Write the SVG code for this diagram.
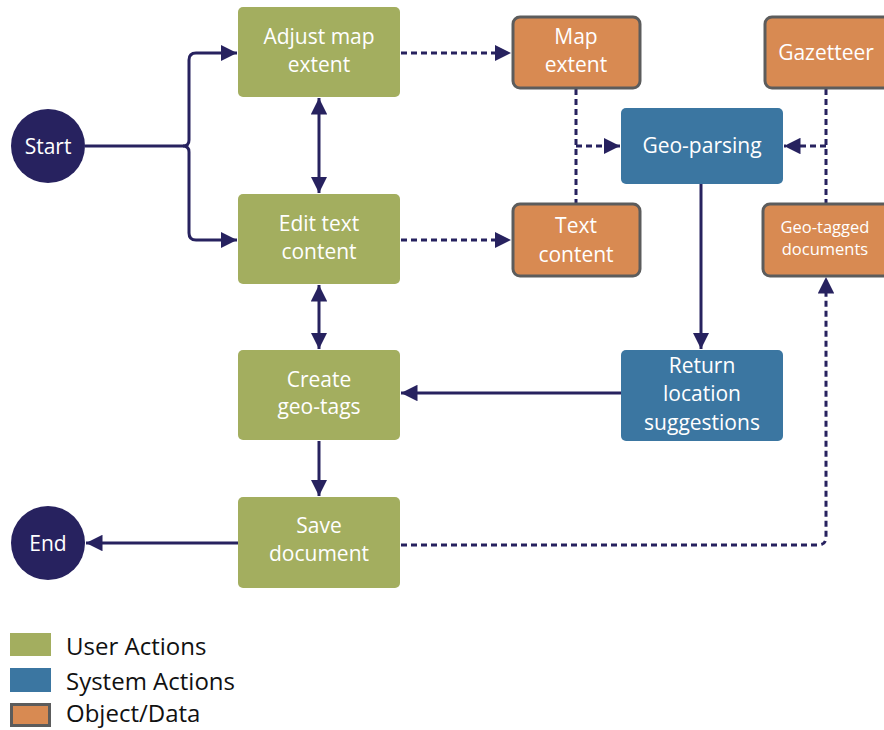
<svg xmlns="http://www.w3.org/2000/svg" width="884" height="730" viewBox="0 0 884 730">
<style>
.user{fill:#a3ae5f}
.sys{fill:#3b76a1}
.obj{fill:#d88a52;stroke:#5c5c5c;stroke-width:3}
.t{font-family:"Open Sans","Liberation Sans",sans-serif;font-size:21px;fill:#fff;text-anchor:middle}
.ts{font-family:"Open Sans","Liberation Sans",sans-serif;font-size:16.5px;fill:#fff;text-anchor:middle}
.lg{font-family:"Open Sans","Liberation Sans",sans-serif;font-size:24px;fill:#111}
.c{fill:none;stroke:#27225f;stroke-width:3}
.d{fill:none;stroke:#27225f;stroke-width:3;stroke-dasharray:6 4}
.term{fill:#27225f}
</style>
<defs>
<marker id="ah" viewBox="0 0 10 10" refX="10" refY="5" markerWidth="5.5" markerHeight="5.5" orient="auto-start-reverse" markerUnits="strokeWidth">
<path d="M0,0 L10,5 L0,10 z" fill="#27225f"/>
</marker>
</defs>
<g id="connectors">
<path class="c" d="M85,146 H183 Q189,146 189,140 V60 Q189,53 196,53 H237" marker-end="url(#ah)"/>
<path class="c" d="M183,146 Q189,146 189,152 V233 Q189,240 196,240 H237" marker-end="url(#ah)"/>
<path class="c" d="M319,98 V193" marker-start="url(#ah)" marker-end="url(#ah)"/>
<path class="c" d="M319,285 V349" marker-start="url(#ah)" marker-end="url(#ah)"/>
<path class="c" d="M319,441 V496" marker-end="url(#ah)"/>
<path class="c" d="M238,543 H86" marker-end="url(#ah)"/>
<path class="c" d="M621,393 H401" marker-end="url(#ah)"/>
<path class="c" d="M701,184 V349" marker-end="url(#ah)"/>
<path class="d" d="M401,53 H511" marker-end="url(#ah)"/>
<path class="d" d="M401,240 H511" marker-end="url(#ah)"/>
<path class="d" d="M576,89 V203"/>
<path class="d" d="M576,146 H620" marker-end="url(#ah)"/>
<path class="d" d="M826,89 V203"/>
<path class="d" d="M826,146 H784" marker-end="url(#ah)"/>
<path class="d" d="M401,545 H818 Q826,545 826,537 V277" marker-end="url(#ah)"/>
</g>
<g id="start"><circle class="term" cx="48" cy="146" r="37"/><text class="t" x="48" y="154">Start</text></g>
<g id="end"><circle class="term" cx="48" cy="543" r="37"/><text class="t" x="48" y="551">End</text></g>
<g id="adjust"><rect class="user" x="238" y="7" width="162" height="90" rx="5"/><text class="t" x="319" y="44">Adjust map</text><text class="t" x="319" y="72">extent</text></g>
<g id="edit"><rect class="user" x="238" y="194" width="162" height="90" rx="5"/><text class="t" x="319" y="231">Edit text</text><text class="t" x="319" y="259">content</text></g>
<g id="create"><rect class="user" x="238" y="350" width="162" height="90" rx="5"/><text class="t" x="319" y="387">Create</text><text class="t" x="319" y="414">geo-tags</text></g>
<g id="save"><rect class="user" x="238" y="497" width="162" height="91" rx="5"/><text class="t" x="319" y="533">Save</text><text class="t" x="319" y="561">document</text></g>
<g id="mapextent"><rect class="obj" x="513" y="17" width="127" height="71" rx="7"/><text class="t" x="576" y="44">Map</text><text class="t" x="576" y="72">extent</text></g>
<g id="textcontent"><rect class="obj" x="513" y="204" width="127" height="72" rx="7"/><text class="t" x="576" y="233">Text</text><text class="t" x="576" y="262">content</text></g>
<g id="gazetteer"><rect class="obj" x="765" y="17" width="130" height="71" rx="7"/><text class="t" x="826" y="60">Gazetteer</text></g>
<g id="geotagged"><rect class="obj" x="763" y="204" width="130" height="72" rx="7"/><text class="ts" x="825" y="233">Geo-tagged</text><text class="ts" x="825" y="255">documents</text></g>
<g id="geoparsing"><rect class="sys" x="621" y="108" width="162" height="76" rx="5"/><text class="t" x="702" y="153">Geo-parsing</text></g>
<g id="return"><rect class="sys" x="621" y="350" width="162" height="91" rx="5"/><text class="t" x="702" y="373">Return</text><text class="t" x="702" y="401">location</text><text class="t" x="702" y="430">suggestions</text></g>
<g id="legend">
<rect class="user" x="10" y="633" width="41" height="23"/><text class="lg" x="66" y="655">User Actions</text>
<rect class="sys" x="10" y="668" width="41" height="24"/><text class="lg" x="66" y="690">System Actions</text>
<rect class="obj" x="11.5" y="704.5" width="38" height="21"/><text class="lg" x="66" y="722">Object/Data</text>
</g>
</svg>
